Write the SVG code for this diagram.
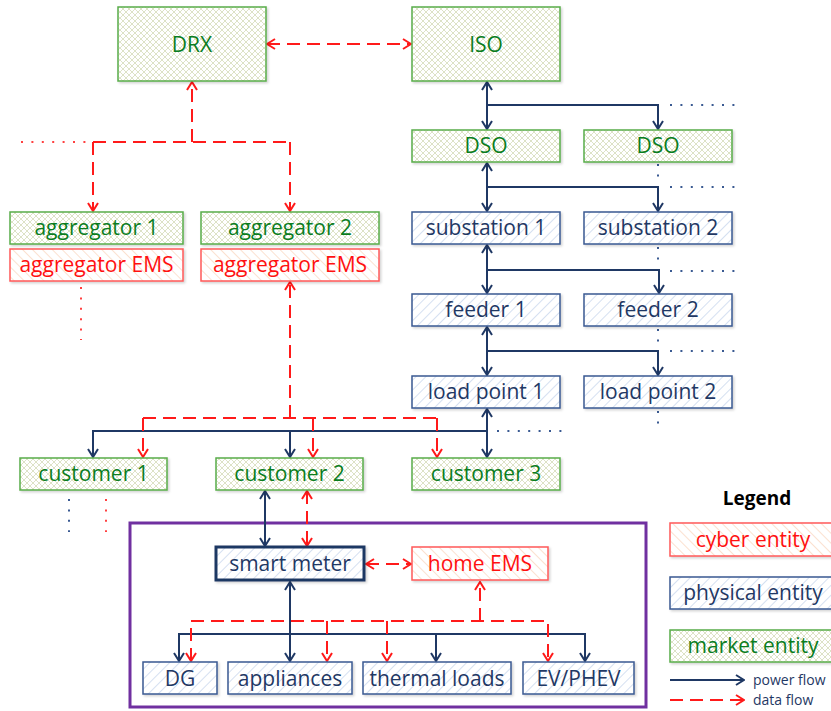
<svg xmlns="http://www.w3.org/2000/svg" width="831" height="711" viewBox="0 0 831 711">
<defs>
<pattern id="pMarket" width="6" height="6" patternUnits="userSpaceOnUse">
<rect width="6" height="6" fill="#ffffff"/>
<path d="M0,0 L6,6 M6,0 L0,6" stroke="#d9dfc0" stroke-width="0.9"/>
</pattern>
<pattern id="pPhys" width="7" height="7" patternUnits="userSpaceOnUse" patternTransform="rotate(45)">
<rect width="7" height="7" fill="#ffffff"/>
<line x1="0" y1="0" x2="0" y2="7" stroke="#b9cce8" stroke-width="1.2"/>
</pattern>
<pattern id="pCyber" width="7" height="7" patternUnits="userSpaceOnUse" patternTransform="rotate(-45)">
<rect width="7" height="7" fill="#ffffff"/>
<line x1="0" y1="0" x2="0" y2="7" stroke="#f9cdb0" stroke-width="1.2"/>
</pattern>
<marker id="aBlue" viewBox="0 0 10 12" refX="9" refY="6" markerWidth="10" markerHeight="12" markerUnits="userSpaceOnUse" orient="auto-start-reverse">
<path d="M1,1 L9,6 L1,11" fill="none" stroke="#1f3864" stroke-width="2"/>
</marker>
<marker id="aRed" viewBox="0 0 10 12" refX="9" refY="6" markerWidth="10" markerHeight="12" markerUnits="userSpaceOnUse" orient="auto-start-reverse">
<path d="M1,1 L9,6 L1,11" fill="none" stroke="#ff1a1a" stroke-width="2"/>
</marker>
<filter id="sh" x="-10%" y="-20%" width="130%" height="160%">
<feDropShadow dx="1.5" dy="1.5" stdDeviation="1" flood-color="#000" flood-opacity="0.18"/>
</filter>
</defs>
<style>
text{font-family:"Open Sans","Noto Sans","Liberation Sans",sans-serif;font-size:21px;text-anchor:middle}
.mk rect{fill:url(#pMarket);stroke:#5aad4a;stroke-width:1.5;filter:url(#sh)}
.mk text{fill:#0a7d1e}
.ph rect{fill:url(#pPhys);stroke:#3a5a92;stroke-width:1.5;filter:url(#sh)}
.ph text{fill:#1f3864}
.cy rect{fill:url(#pCyber);stroke:#ff5a5a;stroke-width:1.5;filter:url(#sh)}
.cy text{fill:#ff1010}
.pw{fill:none;stroke:#1f3864;stroke-width:2}
.df{fill:none;stroke:#ff1a1a;stroke-width:2;stroke-dasharray:13 7}
.dotb{fill:none;stroke:#3a5a92;stroke-width:2;stroke-dasharray:2 8.4}
.dotr{fill:none;stroke:#ff4040;stroke-width:2;stroke-dasharray:2 8.4}
</style>
<rect width="831" height="711" fill="#ffffff"/>

<g id="home-boundary">
<rect x="130" y="523" width="516" height="184" fill="none" stroke="#7030a0" stroke-width="3"/>
</g>

<g id="connectors">
<!-- DRX <-> ISO -->
<path class="df" d="M267,44 H411" marker-start="url(#aRed)" marker-end="url(#aRed)"/>
<!-- DRX to aggregators -->
<path class="df" d="M192,142 V82" marker-end="url(#aRed)"/>
<path class="df" d="M93,142 H290"/>
<path class="df" d="M93,142 V211" marker-end="url(#aRed)"/>
<path class="df" d="M290,142 V211" marker-end="url(#aRed)"/>
<path class="dotr" d="M21,142 H88"/>
<path class="dotr" d="M81,287 V340"/>
<!-- ISO / DSO -->
<path class="pw" d="M487,82 V129" marker-start="url(#aBlue)" marker-end="url(#aBlue)"/>
<path class="pw" d="M487,105 H658 V129" marker-end="url(#aBlue)"/>
<path class="dotb" d="M670,105 H735"/>
<!-- DSO / substation -->
<path class="pw" d="M487,163 V211" marker-start="url(#aBlue)" marker-end="url(#aBlue)"/>
<path class="pw" d="M487,187 H658 V211" marker-end="url(#aBlue)"/>
<path class="dotb" d="M670,187 H735"/>
<path class="dotb" d="M658,164 V182"/>
<!-- substation / feeder -->
<path class="pw" d="M487,245 V293" marker-start="url(#aBlue)" marker-end="url(#aBlue)"/>
<path class="pw" d="M487,270 H659 V293" marker-end="url(#aBlue)"/>
<path class="dotb" d="M670,271 H735"/>
<path class="dotb" d="M658,247 V265"/>
<!-- feeder / load point -->
<path class="pw" d="M487,327 V375" marker-start="url(#aBlue)" marker-end="url(#aBlue)"/>
<path class="pw" d="M487,351 H658 V375" marker-end="url(#aBlue)"/>
<path class="dotb" d="M670,351 H735"/>
<path class="dotb" d="M658,329 V345"/>
<path class="dotb" d="M658,411 V425"/>
<!-- load point / customers -->
<path class="pw" d="M487,409 V457" marker-start="url(#aBlue)" marker-end="url(#aBlue)"/>
<path class="pw" d="M487,431 H93 V457" marker-end="url(#aBlue)"/>
<path class="pw" d="M290,431 V457" marker-end="url(#aBlue)"/>
<path class="dotb" d="M497,431 H562"/>
<!-- aggregator EMS 2 / customers data -->
<path class="df" d="M143,418 H437"/>
<path class="df" d="M290,418 V282" marker-end="url(#aRed)"/>
<path class="df" d="M143,418 V457" marker-end="url(#aRed)"/>
<path class="df" d="M313,418 V457" marker-end="url(#aRed)"/>
<path class="df" d="M437,418 V457" marker-end="url(#aRed)"/>
<path class="dotb" d="M69,499 V532"/>
<path class="dotr" d="M106,499 V532"/>
<!-- customer 2 / smart meter -->
<path class="pw" d="M265,491 V546" marker-start="url(#aBlue)" marker-end="url(#aBlue)"/>
<path class="df" d="M307,491 V546" marker-start="url(#aRed)" marker-end="url(#aRed)"/>
<!-- smart meter <-> home EMS -->
<path class="df" d="M366,564 H411" marker-start="url(#aRed)" marker-end="url(#aRed)"/>
<!-- smart meter / devices power -->
<path class="pw" d="M290,582 V661" marker-start="url(#aBlue)" marker-end="url(#aBlue)"/>
<path class="pw" d="M179,661 V634 H585 V661" marker-start="url(#aBlue)" marker-end="url(#aBlue)"/>
<path class="pw" d="M436,634 V661" marker-end="url(#aBlue)"/>
<!-- home EMS / devices data -->
<path class="df" d="M480,621 V582" marker-end="url(#aRed)"/>
<path class="df" d="M191,661 V621 H548 V661" marker-start="url(#aRed)" marker-end="url(#aRed)"/>
<path class="df" d="M327,621 V661" marker-end="url(#aRed)"/>
<path class="df" d="M387,621 V661" marker-end="url(#aRed)"/>
</g>

<g id="DRX" class="mk"><rect x="118" y="7" width="148" height="74"/><text x="192" y="52">DRX</text></g>
<g id="ISO" class="mk"><rect x="412" y="7" width="148" height="74"/><text x="486" y="52">ISO</text></g>
<g id="DSO1" class="mk"><rect x="412" y="130" width="148" height="32"/><text x="486" y="153">DSO</text></g>
<g id="DSO2" class="mk"><rect x="584" y="130" width="148" height="32"/><text x="658" y="153">DSO</text></g>
<g id="aggregator1" class="mk"><rect x="10" y="212" width="173" height="32"/><text x="96.5" y="235">aggregator 1</text></g>
<g id="aggregator2" class="mk"><rect x="201" y="212" width="178" height="32"/><text x="290" y="235">aggregator 2</text></g>
<g id="aggregatorEMS1" class="cy"><rect x="10" y="249" width="173" height="32"/><text x="96.5" y="272">aggregator EMS</text></g>
<g id="aggregatorEMS2" class="cy"><rect x="201" y="249" width="178" height="32"/><text x="290" y="272">aggregator EMS</text></g>
<g id="substation1" class="ph"><rect x="412" y="212" width="148" height="32"/><text x="486" y="235">substation 1</text></g>
<g id="substation2" class="ph"><rect x="584" y="212" width="148" height="32"/><text x="658" y="235">substation 2</text></g>
<g id="feeder1" class="ph"><rect x="412" y="294" width="148" height="32"/><text x="486" y="317">feeder 1</text></g>
<g id="feeder2" class="ph"><rect x="584" y="294" width="148" height="32"/><text x="658" y="317">feeder 2</text></g>
<g id="loadpoint1" class="ph"><rect x="412" y="376" width="148" height="32"/><text x="486" y="399">load point 1</text></g>
<g id="loadpoint2" class="ph"><rect x="584" y="376" width="148" height="32"/><text x="658" y="399">load point 2</text></g>
<g id="customer1" class="mk"><rect x="20" y="458" width="147" height="32"/><text x="93.5" y="481">customer 1</text></g>
<g id="customer2" class="mk"><rect x="216" y="458" width="147" height="32"/><text x="289.5" y="481">customer 2</text></g>
<g id="customer3" class="mk"><rect x="412" y="458" width="148" height="32"/><text x="486" y="481">customer 3</text></g>
<g id="smartmeter" class="ph"><rect x="216" y="547" width="148" height="33" style="stroke:#1f3864;stroke-width:3"/><text x="290" y="571">smart meter</text></g>
<g id="homeEMS" class="cy"><rect x="412" y="547" width="136" height="33"/><text x="480" y="571">home EMS</text></g>
<g id="DG" class="ph"><rect x="143" y="662" width="74" height="32"/><text x="180" y="686">DG</text></g>
<g id="appliances" class="ph"><rect x="228" y="662" width="124" height="32"/><text x="290" y="686">appliances</text></g>
<g id="thermalloads" class="ph"><rect x="363" y="662" width="148" height="32"/><text x="437" y="686">thermal loads</text></g>
<g id="EVPHEV" class="ph"><rect x="523" y="662" width="111" height="32"/><text x="578.5" y="686">EV/PHEV</text></g>

<g id="legend">
<text x="757" y="505" style="font-weight:bold;font-size:19px;fill:#000">Legend</text>
<g class="cy"><rect x="670" y="523" width="168" height="33"/><text x="753" y="547">cyber entity</text></g>
<g class="ph"><rect x="670" y="577" width="168" height="32"/><text x="753" y="600">physical entity</text></g>
<g class="mk"><rect x="670" y="630" width="168" height="32"/><text x="753" y="653">market entity</text></g>
<path class="pw" d="M670,680 H744" marker-end="url(#aBlue)"/>
<path class="df" d="M670,700 H744" marker-end="url(#aRed)"/>
<text x="753" y="685" style="font-size:14px;text-anchor:start;fill:#1f3864">power flow</text>
<text x="753" y="705" style="font-size:14px;text-anchor:start;fill:#1f3864">data flow</text>
</g>
</svg>
